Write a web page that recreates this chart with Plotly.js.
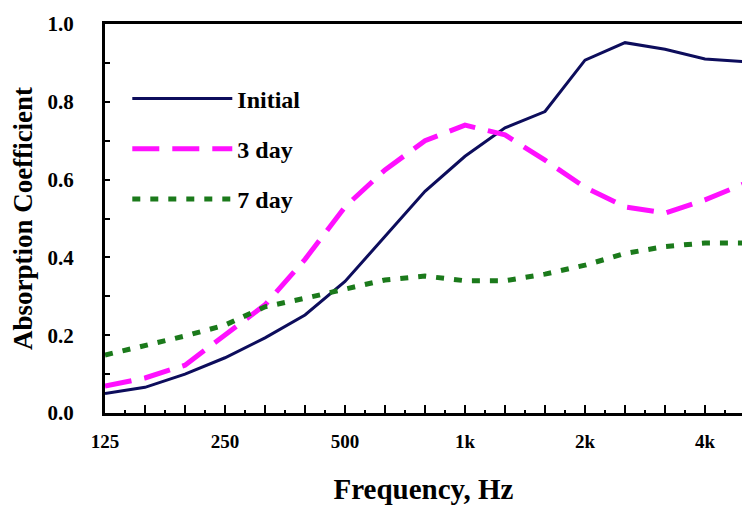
<!DOCTYPE html>
<html>
<head>
<meta charset="utf-8">
<script src="https://cdn.plot.ly/plotly-3.0.1.min.js"></script>
<style>html,body{margin:0;padding:0;background:#fff;}#chart{width:742px;height:508px;}</style>
</head>
<body>
<div id="chart"></div>
<script>
// One-third octave band centre frequencies (category labels)
const bands = ['125','160','200','250','315','400','500','630','800','1k','1.25k','1.6k','2k','2.5k','3.15k','4k','5k'];
const labelledBands = ['125','250','500','1k','2k','4k'];
const tickLabels = ['125','250','500','1k','2k','4k'];

const initial = [0.050,0.066,0.100,0.142,0.193,0.252,0.338,0.455,0.570,0.660,0.733,0.775,0.907,0.952,0.935,0.910,0.903];
const day3    = [0.069,0.090,0.123,0.200,0.278,0.395,0.530,0.625,0.700,0.740,0.715,0.650,0.580,0.530,0.514,0.548,0.590];
const day7    = [0.149,0.172,0.198,0.226,0.273,0.295,0.318,0.342,0.352,0.340,0.340,0.357,0.380,0.410,0.428,0.437,0.437];

const xi = bands.map((_, i) => i);
const tickvals = bands.map((_, i) => i);
const ticktext = bands.map(b => { const k = labelledBands.indexOf(b); return k >= 0 ? tickLabels[k] : ''; });

const serif = 'Liberation Serif, Times New Roman, serif';

const traces = [
  {x: xi, y: initial, name: 'Initial', mode: 'lines', legendgroup: 'a',
   line: {color: '#0d0d5c', width: 3}},
  {x: xi, y: day3, name: '3 day', mode: 'lines', legendgroup: 'b',
   line: {color: '#ff10ff', width: 5, dash: '27px,13px'}},
  {x: xi, y: day7, name: '7 day', mode: 'lines', legendgroup: 'c',
   line: {color: '#1b7a1b', width: 5, dash: '8px,10px'}}
];

const layout = {
  width: 742, height: 508,
  margin: {l: 105, r: 0, t: 24, b: 95},
  paper_bgcolor: '#fff', plot_bgcolor: '#fff',
  showlegend: true,
  legend: {x: 0.035, y: 0.865, xanchor: 'left', yanchor: 'top',
           bgcolor: 'rgba(0,0,0,0)', borderwidth: 0,
           traceorder: 'grouped', tracegroupgap: 16, itemwidth: 100,
           font: {family: serif, size: 24, color: '#000', weight: 'bold'}},
  xaxis: {
    range: [0, 15.925], tickmode: 'array', tickvals: tickvals, ticktext: ticktext,
    ticks: 'inside', ticklen: 8, tickwidth: 2, tickcolor: '#000',
    minor: {tickmode: 'linear', tick0: 0.5, dtick: 1, ticks: 'inside', ticklen: 3, tickwidth: 2, tickcolor: '#000'},
    showline: true, linecolor: '#000', linewidth: 3, mirror: true,
    showgrid: false, zeroline: false,
    ticklabelstandoff: 9,
    tickfont: {family: serif, size: 19, color: '#000', weight: 'bold'},
    title: {text: 'Frequency, Hz', standoff: 28, font: {family: serif, size: 29, color: '#000', weight: 'bold'}}
  },
  yaxis: {
    range: [0, 1.0], dtick: 0.2, tick0: 0, tickformat: '.1f',
    ticks: 'inside', ticklen: 5, tickwidth: 2, tickcolor: '#000',
    minor: {dtick: 0.1, ticks: 'inside', ticklen: 5, tickwidth: 2, tickcolor: '#000'},
    showline: true, linecolor: '#000', linewidth: 3,
    showgrid: false, zeroline: false,
    ticklabelstandoff: 24,
    tickfont: {family: serif, size: 21, color: '#000', weight: 'bold'},
    title: {text: 'Absorption Coefficient', standoff: 8, font: {family: serif, size: 27, color: '#000', weight: 'bold'}}
  }
};

Plotly.newPlot('chart', traces, layout, {displayModeBar: false, staticPlot: true});
</script>
</body>
</html>
